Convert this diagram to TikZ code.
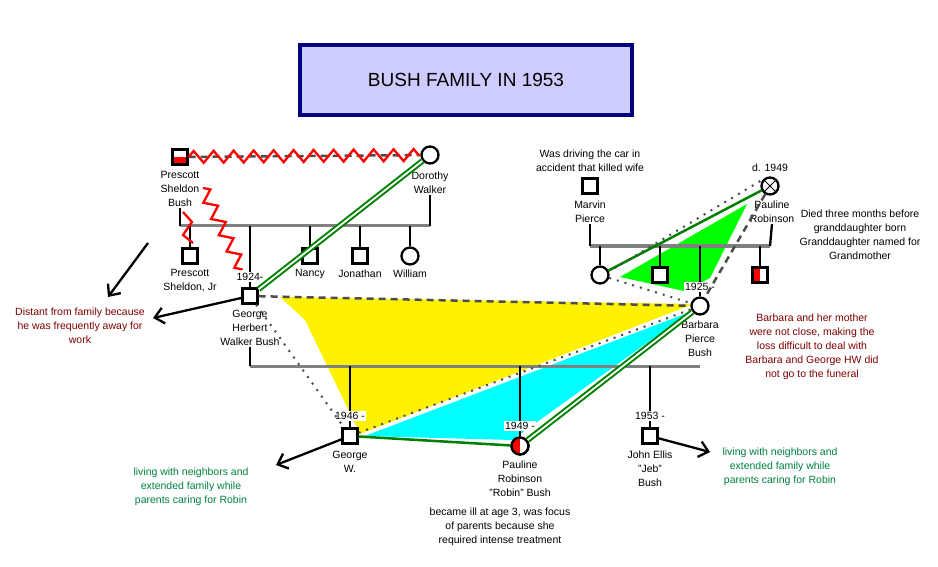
\documentclass[tikz,border=0pt]{standalone}
\usepackage{fontspec}
\setmainfont{Liberation Sans}
\usetikzlibrary{decorations.pathmorphing,arrows.meta}
\definecolor{lav}{RGB}{204,204,255}
\definecolor{navy}{RGB}{0,0,128}
\definecolor{dred}{RGB}{128,0,0}
\definecolor{dgreen}{RGB}{0,128,0}
\definecolor{tgreen}{RGB}{0,128,64}
\definecolor{lgray}{RGB}{128,128,128}
\definecolor{cyn}{RGB}{0,255,255}
\begin{document}
\begin{tikzpicture}[x=1pt,y=-1pt,
  every node/.style={font=\fontsize{10.5}{14}\selectfont,align=center},
  m/.style={draw,line width=2.3pt,fill=white,minimum size=15pt,inner sep=0pt},
  f/.style={draw,circle,line width=2.3pt,fill=white,minimum size=17pt,inner sep=0pt},
  lbl/.style={inner sep=1pt},
  sib/.style={lgray,line width=3pt},
  dsc/.style={line width=2.3pt},
  close/.style={dgreen,double=white,double distance=1.8pt,line width=2pt},
  grn/.style={dgreen,line width=2.5pt},
  dsh/.style={lgray!60!black,line width=2.5pt,dash pattern=on 7pt off 5pt},
  dtt/.style={black!70,line width=2pt,dash pattern=on 2pt off 6pt},
  zz/.style={red,line width=2.3pt,decorate,decoration={zigzag,amplitude=6pt,segment length=20pt}},
  arr/.style={line width=2.3pt,-{Straight Barb[length=9pt,width=16pt]}}]
\useasboundingbox (0,0) rectangle (938,567);
\fill[white] (0,0) rectangle (938,567);
% title
\node[draw=navy,line width=3.5pt,fill=lav,minimum width=332pt,minimum height=70pt,font=\fontsize{19}{22}\selectfont] (title) at (466,80) {BUSH FAMILY IN 1953};
% fills
\fill[yellow] (280,297) -- (693,304) -- (360,434) -- (305,320) -- cycle;
\fill[cyn] (365,436) -- (690,312) -- (512,440) -- cycle;
\fill[green] (620,277) -- (747,204) -- (710,278) -- (684,291) -- cycle;
% people gen 1
\node[m] (psb) at (180,157) {};
\fill[red] (172.5,157) rectangle (187.5,164.5);
\draw[line width=2.3pt] (172.5,149.5) rectangle (187.5,164.5);
\node[f] (dw) at (430,155) {};
\node[lbl] (psbl) at (180,189) {Prescott\\Sheldon\\Bush};
\node[lbl] (dwl) at (430,183) {Dorothy\\Walker};
\draw[dsh] (psb) -- (dw);
\draw[zz] (psb.east) -- (dw.west);
% sibship
\coordinate (s1a) at (180,226); \coordinate (s1b) at (430,226);
\draw[sib] (s1a) -- (s1b);
\draw[dsc] (psbl.south) -- (s1a);
\draw[dsc] (dwl.south) -- (s1b);
\node[m] (psj) at (190,256) {};
\node[m] (ghw) at (250,296) {};
\node[m] (nan) at (310,256) {};
\node[m] (jon) at (360,256) {};
\node[f] (wil) at (410,256) {};
\foreach \n/\x in {psj/190,ghw/250,nan/310,jon/360,wil/410}{\draw[dsc] (\x,226) -- (\n.north);}
\node[lbl] at (190,281) {Prescott\\Sheldon, Jr};
\node[lbl] at (310,274) {Nancy};
\node[lbl] at (360,274) {Jonathan};
\node[lbl] at (410,274) {William};
\node[lbl,fill=white] at (250,277) {1924-};
\node[lbl] (ghwl) at (250,328) {George\\Herbert\\Walker Bush};
\draw[zz,decoration={amplitude=6pt,segment length=18pt}] (203,188) -- (242,270);
\draw[red,line width=2.3pt] (183,212) -- (192,222) -- (183,235) -- (193,243);
\draw[close] (ghw) -- (dw);
\draw[arr] (ghw) -- (153,318);
\node[lbl,text=dred] at (80,326) {Distant from family because\\he was frequently away for\\work};
\draw[arr] (148,243) -- (108,297);
% Pierce
\node[lbl] at (590,161) {Was driving the car in\\accident that killed wife};
\node[m] (mp) at (590,186) {};
\node[f] (pr) at (770,186) {};
\draw[line width=1pt] (pr.north west) -- (pr.south east) (pr.north east) -- (pr.south west);
\node[lbl] at (770,168) {d. 1949};
\node[lbl] (mpl) at (590,212) {Marvin\\Pierce};
\node[lbl] (prl) at (772,212) {Pauline\\Robinson};
\coordinate (s2a) at (590,246); \coordinate (s2b) at (770,246);
\draw[sib] (s2a) -- (s2b);
\draw[dsc] (mpl.south) -- (s2a);
\draw[dsc] (prl.south) -- (s2b);
\node[f] (c1) at (600,275) {};
\node[m] (c2) at (660,275) {};
\node[f] (bpb) at (700,306) {};
\node[m] (c4) at (760,275) {};
\fill[red] (752.5,267.5) rectangle (760,282.5);
\draw[line width=2.3pt] (752.5,267.5) rectangle (767.5,282.5);
\foreach \n/\x in {c1/600,c2/660,bpb/700,c4/760}{\draw[dsc] (\x,246) -- (\n.north);}
\node[lbl,fill=white] at (700,287) {1925 -};
\node[lbl] at (700,339) {Barbara\\Pierce\\Bush};
\draw[grn] (pr) -- (c1);
\draw[dtt] ([yshift=5pt]pr.west) -- ([yshift=4pt]c1.east);
\draw[dtt] (c1) -- (bpb);
\draw[dsh] (pr) -- (bpb);
\node[lbl] at (860,235) {Died three months before\\granddaughter born\\Granddaughter named for\\Grandmother};
\node[lbl,text=dred] at (812,347) {Barbara and her mother\\were not close, making the\\loss difficult to deal with\\Barbara and George HW did\\not go to the funeral};
% gen 3
\draw[dsh] (ghw) -- (bpb);
\coordinate (s3a) at (250,366); \coordinate (s3b) at (700,366);
\draw[sib] (s3a) -- (s3b);
\draw[dsc] (ghwl.south) -- (s3a);
\node[m] (gw) at (350,436) {};
\node[f] (rob) at (520,446) {};
\begin{scope}
\clip (520,446) circle (8);
\fill[red] (510,436) rectangle (520,456);
\end{scope}
\draw[line width=2.3pt] (520,446) circle (8.5);
\node[m] (jeb) at (650,436) {};
\foreach \n/\x in {gw/350,rob/520,jeb/650}{\draw[dsc] (\x,366) -- (\n.north);}
\node[lbl,fill=white] at (350,416) {1946 -};
\node[lbl,fill=white] at (520,426) {1949 -};
\node[lbl,fill=white] at (650,416) {1953 -};
\node[lbl] at (350,462) {George\\W.};
\node[lbl] at (520,479) {Pauline\\Robinson\\"Robin" Bush};
\node[lbl] at (650,469) {John Ellis\\"Jeb"\\Bush};
\draw[dtt] (ghw) -- (gw);
\draw[dtt] (gw) -- (bpb);
\draw[close] (bpb) -- (rob);
\draw[grn] (gw) -- (rob);
\draw[arr] (gw) -- (276,465);
\draw[arr] (jeb) -- (710,452);
\node[lbl,text=tgreen] at (191,487) {living with neighbors and\\extended family while\\parents caring for Robin};
\node[lbl,text=tgreen] at (780,467) {living with neighbors and\\extended family while\\parents caring for Robin};
\node[lbl] at (500,527) {became ill at age 3, was focus\\of parents because she\\required intense treatment};
\end{tikzpicture}
\end{document}
